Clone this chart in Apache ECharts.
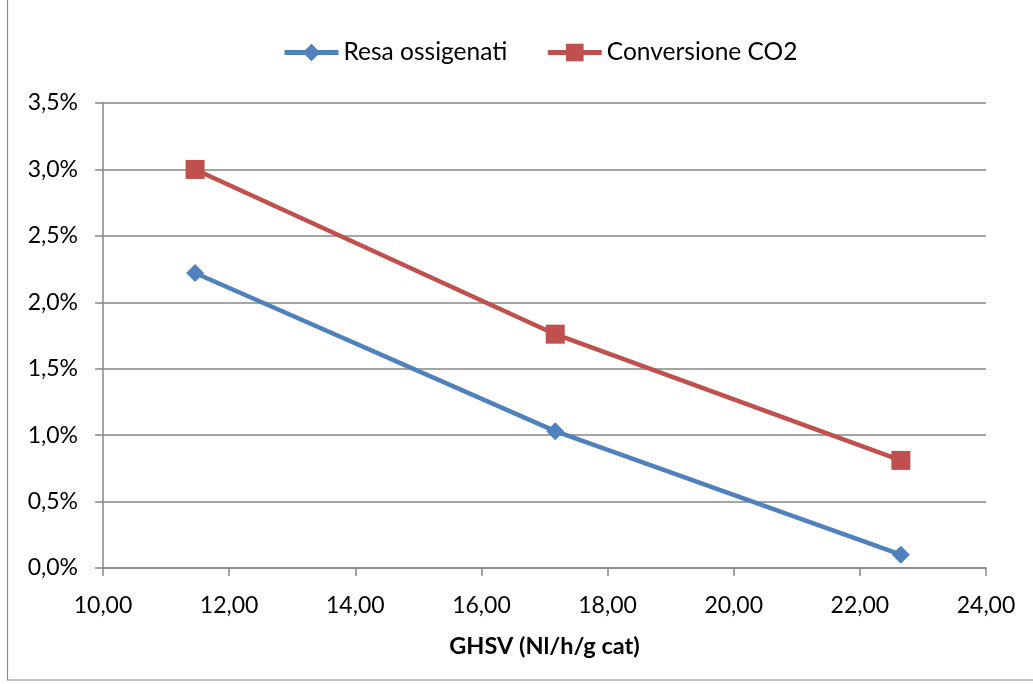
<!DOCTYPE html>
<html><head><meta charset="utf-8">
<script src="https://cdn.jsdelivr.net/npm/echarts@6/dist/echarts.min.js"></script>
<style>html,body{margin:0;padding:0;background:#fff}#c{width:1033px;height:684px}</style>
</head><body><div id="c"></div>
<script>
const ghsv = [11.46, 17.17, 22.65];
const resaOssigenati = [2.22, 1.03, 0.10];
const conversioneCO2 = [3.00, 1.76, 0.81];
const seriesNames = ['Resa ossigenati', 'Conversione CO2'];
const xTitle = 'GHSV (Nl/h/g cat)';

const FONT = 'Lato, "Open Sans", sans-serif';
const chart = echarts.init(document.getElementById('c'));
const pair = (xs, ys) => xs.map((x, i) => [x, ys[i]]);
chart.setOption({
  animation: false,
  graphic: [{type:'rect', shape:{x:7.5, y:-5, width:1100, height:685}, style:{fill:'none', stroke:'#8c8c8c', lineWidth:1.2}}],
  legend: {
    top: 35, left: 277, itemWidth: 54, itemHeight: 22, itemGap: 38,
    textStyle: {fontFamily: FONT, fontSize: 24.5, color: '#000'},
    lineStyle: {width: 5},
    data: seriesNames
  },
  grid: {left: 103, right: 47, top: 103, bottom: 116},
  xAxis: {
    type: 'value', min: 10, max: 24, interval: 2,
    name: xTitle, nameLocation: 'middle', nameGap: 66,
    nameTextStyle: {fontFamily: FONT, fontSize: 23.5, fontWeight: 'bold', color: '#000'},
    axisLine: {show: true, lineStyle: {color: '#868686', width: 1.5}},
    axisTick: {show: true, length: 8, lineStyle: {color: '#868686', width: 1.5}},
    axisLabel: {fontFamily: FONT, fontSize: 23, color: '#000', margin: 26,
      formatter: v => v.toFixed(2).replace('.', ',')},
    splitLine: {show: false}
  },
  yAxis: {
    type: 'value', min: 0, max: 3.5, interval: 0.5,
    axisLine: {show: true, lineStyle: {color: '#868686', width: 1.5}},
    axisTick: {show: true, length: 8, lineStyle: {color: '#868686', width: 1.5}},
    axisLabel: {fontFamily: FONT, fontSize: 23, color: '#000', margin: 25,
      formatter: v => v.toFixed(1).replace('.', ',') + '%'},
    splitLine: {show: true, lineStyle: {color: '#868686', width: 1.5}}
  },
  series: [
    {name: seriesNames[0], type: 'line', data: pair(ghsv, resaOssigenati),
     symbol: 'diamond', symbolSize: 18, color: '#4F81BD',
     lineStyle: {width: 4.5, color: '#4F81BD'}, itemStyle: {color: '#4F81BD'}},
    {name: seriesNames[1], type: 'line', data: pair(ghsv, conversioneCO2),
     symbol: 'rect', symbolSize: 19, color: '#C0504D',
     lineStyle: {width: 4.5, color: '#C0504D'}, itemStyle: {color: '#C0504D'}}
  ]
});
</script></body></html>
